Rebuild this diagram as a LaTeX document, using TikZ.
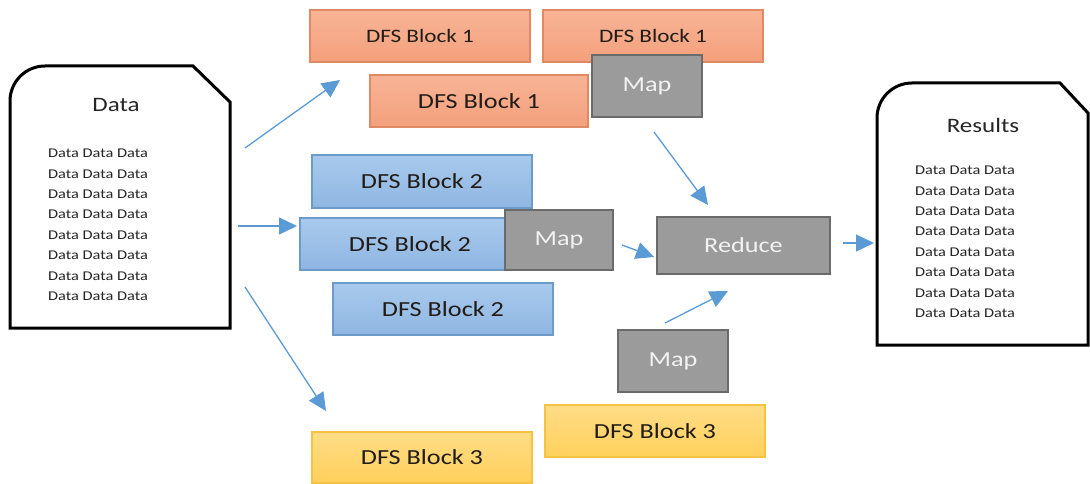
\documentclass[tikz,border=0pt]{standalone}
\usepackage{fontspec}
\setmainfont{Carlito}[FakeStretch=1.22]
\usetikzlibrary{arrows.meta}
\definecolor{orangeTop}{HTML}{F7B496}
\definecolor{orangeBot}{HTML}{F4A07C}
\definecolor{orangeEdge}{HTML}{E08A63}
\definecolor{blueTop}{HTML}{A8C9EC}
\definecolor{blueBot}{HTML}{8FB6E2}
\definecolor{blueEdge}{HTML}{6E9AC8}
\definecolor{yellowTop}{HTML}{FFDC86}
\definecolor{yellowBot}{HTML}{FFD05C}
\definecolor{yellowEdge}{HTML}{F5C242}
\definecolor{mapFill}{HTML}{9B9B9B}
\definecolor{mapEdge}{HTML}{6B6B6B}
\definecolor{flow}{HTML}{5B9BD5}
\definecolor{ink}{HTML}{221C18}
\tikzset{
  block/.style={rectangle, line width=1.1pt, minimum width=220pt, minimum height=52pt,
    inner sep=0pt, text=ink, font=\fontsize{21.5}{24}\selectfont},
  orangeblock/.style={block, draw=orangeEdge, top color=orangeTop, bottom color=orangeBot},
  blueblock/.style={block, draw=blueEdge, top color=blueTop, bottom color=blueBot},
  yellowblock/.style={block, draw=yellowEdge, top color=yellowTop, bottom color=yellowBot},
  mapbox/.style={rectangle, draw=mapEdge, fill=mapFill, line width=2pt, inner sep=0pt,
    minimum width=110pt, minimum height=62pt, text=white!95!black,
    font=\fontsize{21.5}{24}\selectfont},
  doc/.style={draw=black, line width=3pt, fill=white, line join=miter},
  flowarrow/.style={draw=flow, line width=1.3pt, -{Triangle[length=18pt,width=17pt]}},
  doctitle/.style={font=\fontsize{20.5}{24}\selectfont, text=black!85},
  doclines/.style={font=\fontsize{13.4}{20.4}\selectfont, text=black!85, align=center, inner sep=0pt},
}
\begin{document}
\begin{tikzpicture}[x=1pt,y=-1pt]
\useasboundingbox (0,0) rectangle (1090,484);

% input document
\draw[doc] (10,328) -- (10,101) arc[start angle=180, end angle=270, radius=35]
  -- (193,66) -- (230,102) -- (230,328) -- cycle;
\node[doctitle] (datatitle) at (116,105) {Data};
\node[doclines, anchor=north] (datalines) at (98,149)
  {Data Data Data\\Data Data Data\\Data Data Data\\Data Data Data\\Data Data Data\\Data Data Data\\Data Data Data\\Data Data Data};

% output document
\draw[doc] (877,345) -- (877,118) arc[start angle=180, end angle=270, radius=35]
  -- (1060,83) -- (1088,113) -- (1088,345) -- cycle;
\node[doctitle] (restitle) at (983,125) {Results};
\node[doclines, anchor=north] (reslines) at (965,166)
  {Data Data Data\\Data Data Data\\Data Data Data\\Data Data Data\\Data Data Data\\Data Data Data\\Data Data Data\\Data Data Data};

% block 1 replicas
\node[orangeblock, font=\fontsize{19}{22}\selectfont] (b1a) at (420,36) {DFS Block 1};
\node[orangeblock, font=\fontsize{19}{22}\selectfont] (b1b) at (653,36) {DFS Block 1};
\node[orangeblock, minimum width=218pt] (b1c) at (479,101) {DFS Block 1};
\node[mapbox] (map1) at (647,86) {Map};

% block 2 replicas
\node[blueblock, minimum height=53pt] (b2a) at (422,181.5) {DFS Block 2};
\node[blueblock] (b2b) at (410,244) {DFS Block 2};
\node[mapbox, minimum width=108pt, minimum height=60pt] (map2) at (559,240) {Map};
\node[blueblock] (b2c) at (443,309) {DFS Block 2};

% block 3 replicas
\node[mapbox] (map3) at (673,361) {Map};
\node[yellowblock] (b3b) at (655,431) {DFS Block 3};
\node[yellowblock, minimum height=51pt] (b3a) at (422,457.5) {DFS Block 3};

% reducer
\node[mapbox, minimum width=173pt, minimum height=57pt] (reduce) at (743.5,245.5) {Reduce};

% flow arrows
\coordinate (s1) at (245,148); \coordinate (t1) at (340,80);
\coordinate (s2) at (238,226); \coordinate (t2) at (297,226);
\coordinate (s3) at (245,287); \coordinate (t3) at (326,411);
\coordinate (s4) at (654,132); \coordinate (t4) at (708,205);
\coordinate (s5) at (622,245); \coordinate (t5) at (654,257);
\coordinate (s6) at (665,323); \coordinate (t6) at (728,291);
\coordinate (s7) at (843,243); \coordinate (t7) at (874,243);
\draw[flowarrow] (s1) -- (t1);
\draw[flowarrow] (s2) -- (t2);
\draw[flowarrow] (s3) -- (t3);
\draw[flowarrow] (s4) -- (t4);
\draw[flowarrow] (s5) -- (t5);
\draw[flowarrow] (s6) -- (t6);
\draw[flowarrow] (s7) -- (t7);
\end{tikzpicture}
\end{document}
